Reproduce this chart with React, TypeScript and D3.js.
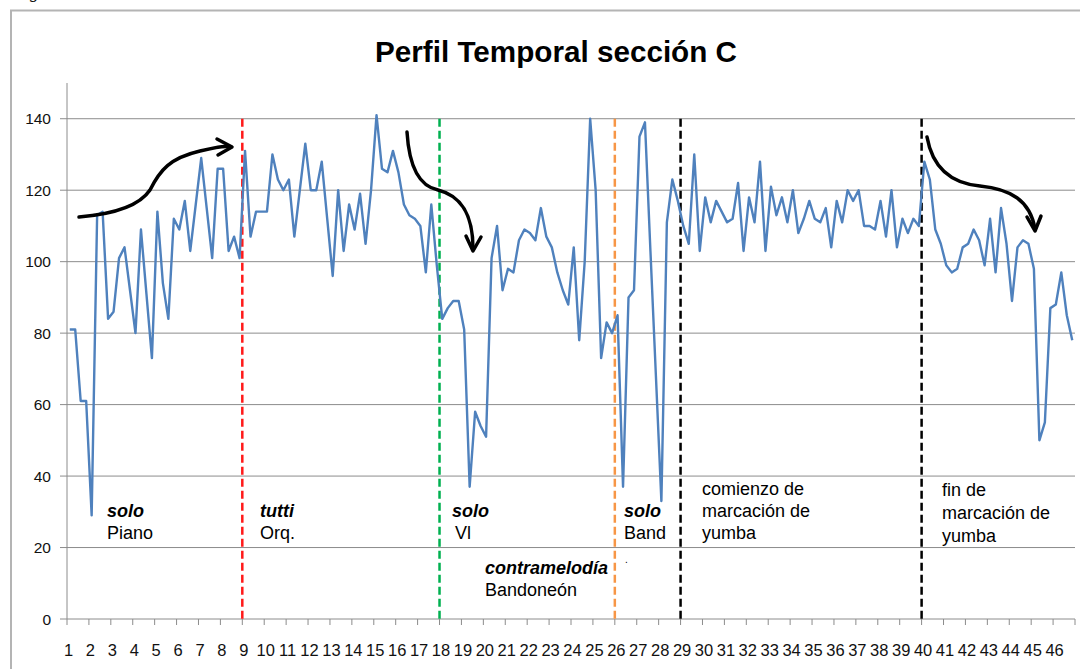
import React from "react";
import * as d3 from "d3";

const WIDTH = 1080;
const HEIGHT = 669;
const MARGIN = { top: 83, right: 5, bottom: 50, left: 67 };

// tempo values, four readings per beat, split by section
const soloPiano = [
  81, 81, 61, 61, 29, 113, 114, 84, 86, 101, 104, 92, 80, 109, 91, 73,
  114, 94, 84, 112, 109, 117, 103, 116, 129, 115, 101, 126, 126, 103, 107, 101,
];
const tuttiOrq = [
  131, 107, 114, 114, 114, 130, 123, 120, 123, 107, 120, 133, 120, 120, 128, 112,
  96, 120, 103, 116, 109, 119, 105, 120, 141, 126, 125, 131, 125, 116, 113, 112,
  110, 97, 116, 99,
];
const soloVl = [
  84, 87, 89, 89, 81, 37, 58, 54, 51, 101, 110, 92, 98, 97, 106, 109,
  108, 106, 115, 107, 104, 97, 92, 88, 104, 78, 100, 140, 120, 73, 83, 80,
];
const soloBand = [85, 37, 90, 92, 135, 139, 103, 68, 33, 111, 123, 117];
const yumba = [
  110, 105, 130, 103, 118, 111, 117, 114, 111, 112, 122, 103, 118, 111, 128, 103,
  121, 113, 118, 111, 120, 108, 112, 117, 112, 111, 115, 104, 117, 111, 120, 117,
  120, 110, 110, 109, 117, 107, 120, 104, 112, 108, 112, 110,
];
const finYumba = [
  128, 123, 109, 105, 99, 97, 98, 104, 105, 109, 106, 99, 112, 97, 115, 105,
  89, 104, 106, 105, 98, 50, 55, 87, 88, 97, 85, 78,
];

const values = [...soloPiano, ...tuttiOrq, ...soloVl, ...soloBand, ...yumba, ...finYumba];

const beats = d3.range(1, 47);
const yTicks = [0, 20, 40, 60, 80, 100, 120, 140];

const markerBeats = [9, 18, 26, 29, 40];
const markerColors = ["#ff1a1a", "#00b050", "#f79646", "#000000", "#000000"];

const notes = [
  { x: 107, y: 517, bold: "solo", lines: ["Piano"] },
  { x: 260, y: 517, bold: "tutti", lines: ["Orq."] },
  { x: 452, y: 517, bold: "solo", lines: ["Vl"] },
  { x: 485, y: 574, bold: "contramelodía", lines: ["Bandoneón"] },
  { x: 624, y: 517, bold: "solo", lines: ["Band"] },
];
const yumbaNotes = [
  { x: 702, y: 495, step: 22, lines: ["comienzo de", "marcación de", "yumba"] },
  { x: 942, y: 496, step: 23, lines: ["fin de", "marcación de", "yumba"] },
];

const arrows = [
  {
    body: "M79,217 C115,214 140,205 150,190 C160,170 170,158 200,151 S225,147 231,147",
    head: "M217,139 L232,147 L218,155",
  },
  {
    body: "M407,132 C409,165 418,186 438,190 C458,195 473,210 473,249",
    head: "M466,236 L473,251 L481,237",
  },
  {
    body: "M927,137 C932,165 948,183 980,186 C1010,189 1030,200 1035,229",
    head: "M1027,217 L1035,231 L1041,216",
  },
];

const FONT = "'Liberation Sans', Arial, sans-serif";

export default function App() {
  const x = d3
    .scaleLinear()
    .domain([0, values.length])
    .range([MARGIN.left, WIDTH - MARGIN.right]);
  const y = d3
    .scaleLinear()
    .domain([0, 150])
    .range([HEIGHT - MARGIN.bottom, MARGIN.top]);

  const line = d3
    .line<number>()
    .x((_, i) => x(i + 0.5))
    .y((d) => y(d));

  const beatX = (b: number) => x((b - 1) * 4);
  const x0 = MARGIN.left;
  const x1 = WIDTH - MARGIN.right;
  const yBase = y(0);

  return (
    <svg
      width={WIDTH}
      height={HEIGHT}
      style={{ position: "absolute", left: 0, top: 0, background: "#fff" }}
      fontFamily={FONT}
    >
      <rect width={WIDTH} height={HEIGHT} fill="#fff" />
      {/* cut caption glyph above the chart frame */}
      <text x={30} y={-2} fontSize={18} fontFamily="'Liberation Serif', serif" fontStyle="italic">
        g
      </text>
      <path d={`M11,${HEIGHT} V10.5 H${WIDTH}`} fill="none" stroke="#b4b4b4" strokeWidth={2} />

      <text
        x={556}
        y={62}
        textAnchor="middle"
        fontSize={29.5}
        fontWeight="bold"
        textLength={362}
        lengthAdjust="spacingAndGlyphs"
      >
        Perfil Temporal sección C
      </text>

      {/* grid */}
      {yTicks.filter((t) => t > 0).map((t) => (
        <line key={t} x1={x0} x2={x1} y1={y(t)} y2={y(t)} stroke="#8c8c8c" strokeWidth={1} />
      ))}

      {/* y axis */}
      <line x1={x0} x2={x0} y1={y(150)} y2={yBase} stroke="#8c8c8c" />
      {yTicks.map((t) => (
        <g key={t}>
          <line x1={x0 - 7} x2={x0} y1={y(t)} y2={y(t)} stroke="#8c8c8c" />
          <text x={51} y={y(t)} dy="0.36em" textAnchor="end" fontSize={15.5} fill="#111">
            {t}
          </text>
        </g>
      ))}

      {/* x axis */}
      <line x1={x0} x2={x1} y1={yBase} y2={yBase} stroke="#8c8c8c" />
      {[...beats, 47].map((b) => (
        <line key={b} x1={beatX(b)} x2={beatX(b)} y1={yBase} y2={yBase + 6} stroke="#8c8c8c" />
      ))}
      {beats.map((b) => (
        <text key={b} x={beatX(b) + 1.5} y={656} textAnchor="middle" fontSize={16.5} fill="#111">
          {b}
        </text>
      ))}

      {/* section markers */}
      {markerBeats.map((b, i) => (
        <line
          key={b}
          x1={beatX(b)}
          x2={beatX(b)}
          y1={y(140)}
          y2={yBase}
          stroke={markerColors[i]}
          strokeWidth={2.5}
          strokeDasharray="8,4"
        />
      ))}

      <path d={line(values) ?? ""} fill="none" stroke="#4f81bd" strokeWidth={2.4} strokeLinejoin="round" />

      {arrows.map((a, i) => (
        <g key={i} fill="none" stroke="#000" strokeWidth={3.5} strokeLinecap="round" strokeLinejoin="round">
          <path d={a.body} />
          <path d={a.head} />
        </g>
      ))}

      {notes.map((n, i) => (
        <g key={i} fontSize={18}>
          <text x={n.x} y={n.y} fontWeight="bold" fontStyle="italic">
            {n.bold}
          </text>
          {n.lines.map((l, j) => (
            <text key={j} x={n.x + (l === "Vl" ? 3 : 0)} y={n.y + 22 * (j + 1)}>
              {l}
            </text>
          ))}
        </g>
      ))}
      <text x={625} y={563} fontSize={10}>.</text>

      {yumbaNotes.map((n, i) => (
        <g key={i} fontSize={18}>
          {n.lines.map((l, j) => (
            <text key={j} x={n.x} y={n.y + n.step * j}>
              {l}
            </text>
          ))}
        </g>
      ))}
    </svg>
  );
}
